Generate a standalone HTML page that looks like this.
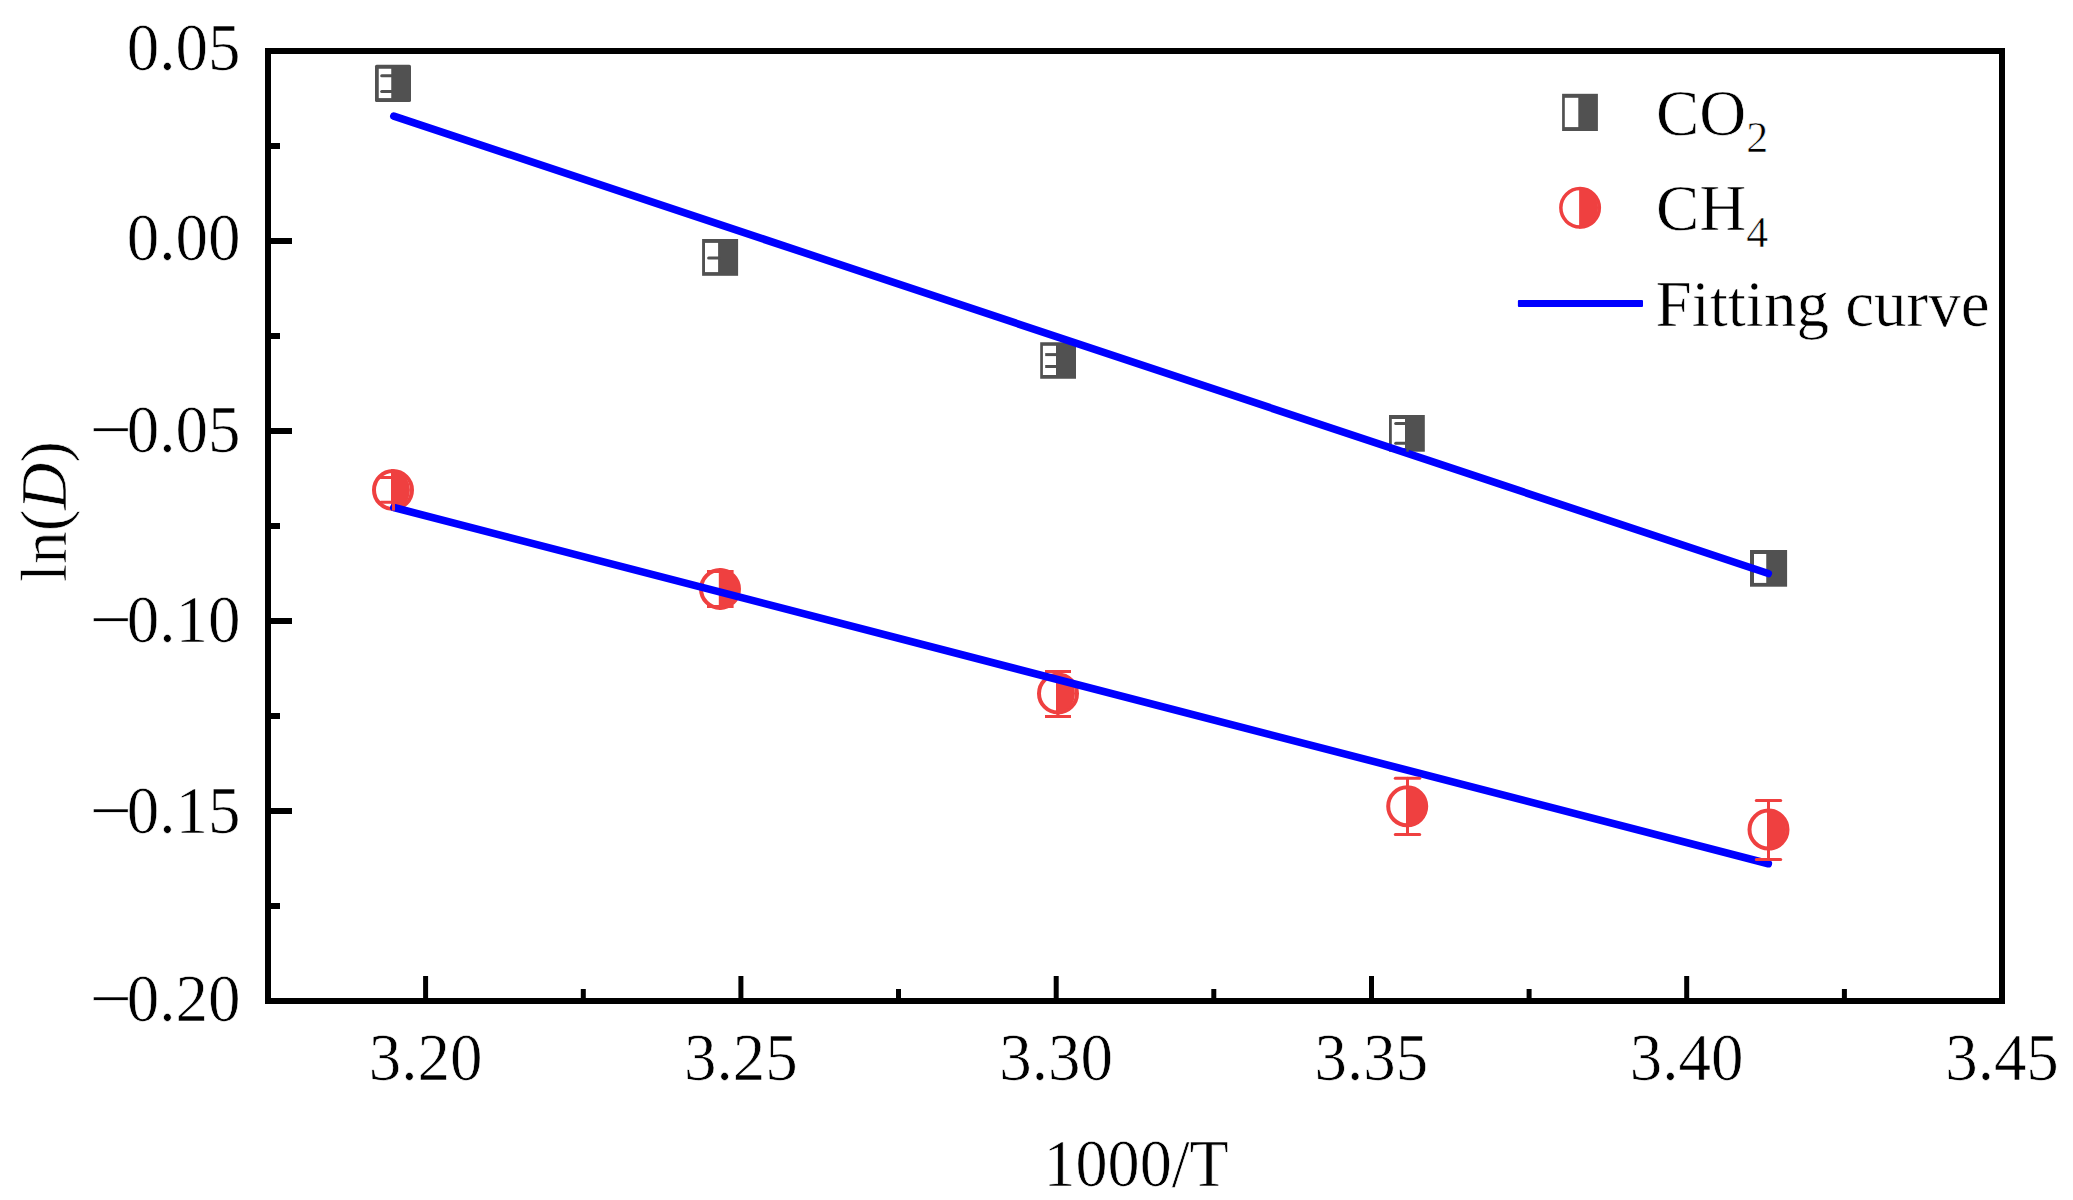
<!DOCTYPE html>
<html lang="en"><head><meta charset="utf-8"><title>ln(D) vs 1000/T</title>
<style>html,body{margin:0;padding:0;background:#fff;}body{width:2073px;height:1200px;overflow:hidden;}svg{display:block;}</style>
</head><body>
<svg width="2073" height="1200" viewBox="0 0 2073 1200" font-family="'Liberation Serif', serif" font-size="65" fill="#000">
<style>text{stroke:#fff;stroke-width:0.6px;}</style>
<rect x="0" y="0" width="2073" height="1200" fill="#fff"/>
<g stroke="#000" stroke-width="5" fill="none">
<line x1="425.6" y1="1001.0" x2="425.6" y2="976"/>
<line x1="740.9" y1="1001.0" x2="740.9" y2="976"/>
<line x1="1056.2" y1="1001.0" x2="1056.2" y2="976"/>
<line x1="1371.5" y1="1001.0" x2="1371.5" y2="976"/>
<line x1="1686.7" y1="1001.0" x2="1686.7" y2="976"/>
<line x1="583.3" y1="1001.0" x2="583.3" y2="989"/>
<line x1="898.5" y1="1001.0" x2="898.5" y2="989"/>
<line x1="1213.8" y1="1001.0" x2="1213.8" y2="989"/>
<line x1="1529.1" y1="1001.0" x2="1529.1" y2="989"/>
<line x1="1844.4" y1="1001.0" x2="1844.4" y2="989"/>
</g><g stroke="#000" stroke-width="6" fill="none">
<line x1="268.0" y1="241.0" x2="292" y2="241.0"/>
<line x1="268.0" y1="431.0" x2="292" y2="431.0"/>
<line x1="268.0" y1="621.0" x2="292" y2="621.0"/>
<line x1="268.0" y1="811.0" x2="292" y2="811.0"/>
<line x1="268.0" y1="146.0" x2="280" y2="146.0"/>
<line x1="268.0" y1="336.0" x2="280" y2="336.0"/>
<line x1="268.0" y1="526.0" x2="280" y2="526.0"/>
<line x1="268.0" y1="716.0" x2="280" y2="716.0"/>
<line x1="268.0" y1="906.0" x2="280" y2="906.0"/>
</g>
<rect x="268.0" y="51.0" width="1734.0" height="950.0" fill="none" stroke="#000" stroke-width="6"/>
<g text-anchor="end">
<text transform="translate(240.50,70.00) scale(1,1.027)">0.05</text>
<text transform="translate(240.50,260.10) scale(1,1.027)">0.00</text>
<text transform="translate(240.50,451.60) scale(1,1.027)"><tspan textLength="42.38" lengthAdjust="spacingAndGlyphs" dy="0.29">−</tspan><tspan dx="-5.28" dy="-0.29">0.05</tspan></text>
<text transform="translate(240.50,642.10) scale(1,1.027)"><tspan textLength="42.38" lengthAdjust="spacingAndGlyphs" dy="0.29">−</tspan><tspan dx="-5.28" dy="-0.29">0.10</tspan></text>
<text transform="translate(240.50,833.10) scale(1,1.027)"><tspan textLength="42.38" lengthAdjust="spacingAndGlyphs" dy="0.29">−</tspan><tspan dx="-5.28" dy="-0.29">0.15</tspan></text>
<text transform="translate(240.50,1021.10) scale(1,1.027)"><tspan textLength="42.38" lengthAdjust="spacingAndGlyphs" dy="0.29">−</tspan><tspan dx="-5.28" dy="-0.29">0.20</tspan></text>
</g>
<g text-anchor="middle">
<text transform="translate(425.64,1079.50) scale(1,1.027)">3.20</text>
<text transform="translate(740.91,1079.50) scale(1,1.027)">3.25</text>
<text transform="translate(1056.18,1079.50) scale(1,1.027)">3.30</text>
<text transform="translate(1371.45,1079.50) scale(1,1.027)">3.35</text>
<text transform="translate(1686.73,1079.50) scale(1,1.027)">3.40</text>
<text transform="translate(2002.00,1079.50) scale(1,1.027)">3.45</text>
<text transform="translate(1136.10,1185.50) scale(0.987,1.027)">1000/T</text>
<text transform="translate(65.50,511.50) rotate(-90) scale(1,1)">ln(<tspan font-style="italic">D</tspan>)</text>
</g>
<rect x="375.00" y="64.80" width="36.00" height="37.30" fill="#515151" rx="1.6"/><rect x="378.75" y="68.75" width="12.50" height="29.35" fill="#fff"/>
<line x1="381.7" y1="75.7" x2="392.2" y2="75.7" stroke="#515151" stroke-width="3" stroke-linecap="round"/>
<line x1="381.7" y1="91.5" x2="392.2" y2="91.5" stroke="#515151" stroke-width="3" stroke-linecap="round"/>
<rect x="702.10" y="239.00" width="36.00" height="36.80" fill="#515151"/><rect x="705.00" y="242.90" width="13.10" height="29.20" fill="#fff"/>
<line x1="708.6" y1="257.9" x2="719.1" y2="257.9" stroke="#515151" stroke-width="3" stroke-linecap="round"/>
<rect x="1040.20" y="342.25" width="35.80" height="36.50" fill="#515151"/><rect x="1042.90" y="345.80" width="13.10" height="29.20" fill="#fff"/>
<line x1="1045.2" y1="354.6" x2="1057.0" y2="354.6" stroke="#515151" stroke-width="3" stroke-linecap="butt"/>
<line x1="1045.2" y1="366.5" x2="1057.0" y2="366.5" stroke="#515151" stroke-width="3" stroke-linecap="butt"/>
<rect x="1389.00" y="415.00" width="35.80" height="36.70" fill="#515151"/><rect x="1391.80" y="419.00" width="13.20" height="29.00" fill="#fff"/>
<line x1="1395.7" y1="423.5" x2="1406.0" y2="423.5" stroke="#515151" stroke-width="3" stroke-linecap="round"/>
<line x1="1395.7" y1="443.3" x2="1406.0" y2="443.3" stroke="#515151" stroke-width="3" stroke-linecap="round"/>
<rect x="1750.00" y="550.00" width="37.10" height="36.70" fill="#515151"/><rect x="1754.00" y="554.00" width="12.25" height="28.90" fill="#fff"/>
<circle cx="393.0" cy="490.0" r="19.0" fill="#fff" stroke="#EF4040" stroke-width="4"/><path d="M391.00,469.10 A21,21 0 0 1 391.00,510.90 Z" fill="#EF4040"/>
<circle cx="720.0" cy="589.0" r="19.0" fill="#fff" stroke="#EF4040" stroke-width="4"/><path d="M719.00,568.10 A21,21 0 0 1 719.00,609.90 Z" fill="#EF4040"/>
<circle cx="1058.0" cy="693.5" r="19.0" fill="#fff" stroke="#EF4040" stroke-width="4"/><path d="M1056.00,672.60 A21,21 0 0 1 1056.00,714.40 Z" fill="#EF4040"/>
<circle cx="1407.2" cy="806.3" r="19.0" fill="#fff" stroke="#EF4040" stroke-width="4"/><path d="M1406.10,785.40 A21,21 0 0 1 1406.10,827.20 Z" fill="#EF4040"/>
<circle cx="1768.5" cy="829.6" r="19.0" fill="#fff" stroke="#EF4040" stroke-width="4"/><path d="M1767.10,808.70 A21,21 0 0 1 1767.10,850.50 Z" fill="#EF4040"/>
<g stroke="#EF4040" stroke-width="3" stroke-linecap="butt" fill="none"><line x1="1058.0" y1="671.5" x2="1058.0" y2="716.5"/><line x1="1045.0" y1="671.5" x2="1071.0" y2="671.5"/><line x1="1045.0" y1="716.5" x2="1071.0" y2="716.5"/></g>
<g stroke="#EF4040" stroke-width="3" stroke-linecap="butt" fill="none"><line x1="720.3" y1="571.5" x2="720.3" y2="606.5"/><line x1="707.0" y1="571.5" x2="733.6" y2="571.5"/><line x1="707.0" y1="606.5" x2="733.6" y2="606.5"/></g>
<g stroke="#0000FF" stroke-width="7.6" stroke-linecap="round" fill="none">
<line x1="393.8" y1="116.1" x2="1768.3" y2="573.5"/>
<line x1="393.8" y1="507.5" x2="1768.3" y2="863.7"/>
</g>
<g stroke="#EF4040" stroke-width="3" stroke-linecap="round" fill="none"><line x1="393.0" y1="477.5" x2="393.0" y2="502.3"/><line x1="380.8" y1="477.5" x2="405.2" y2="477.5"/><line x1="380.8" y1="502.3" x2="405.2" y2="502.3"/></g>
<g stroke="#EF4040" stroke-width="3" stroke-linecap="round" fill="none"><line x1="1407.5" y1="778.3" x2="1407.5" y2="834.5"/><line x1="1395.3" y1="778.3" x2="1419.7" y2="778.3"/><line x1="1395.3" y1="834.5" x2="1419.7" y2="834.5"/></g>
<g stroke="#EF4040" stroke-width="3" stroke-linecap="round" fill="none"><line x1="1768.5" y1="800.4" x2="1768.5" y2="859.6"/><line x1="1756.3" y1="800.4" x2="1780.7" y2="800.4"/><line x1="1756.3" y1="859.6" x2="1780.7" y2="859.6"/></g>
<rect x="392" y="502" width="3" height="8.6" fill="#EF4040"/>
<rect x="1406.3" y="449" width="2.5" height="2.7" fill="#515151"/>
<rect x="1562.10" y="93.80" width="35.80" height="37.20" fill="#515151"/><rect x="1564.80" y="97.80" width="13.50" height="29.30" fill="#fff"/>
<circle cx="1580.1" cy="207.8" r="19.25" fill="#fff" stroke="#EF4040" stroke-width="3.5"/><path d="M1579.10,186.90 A21,21 0 0 1 1579.10,228.70 Z" fill="#EF4040"/>
<rect x="1517.9" y="299.9" width="125.1" height="7.1" rx="1" fill="#0000FF"/>
<text transform="translate(1656.00,135.00) scale(1,1.015)">CO<tspan font-size="44" dy="16.7">2</tspan></text>
<text transform="translate(1656.00,230.00) scale(1,1.015)">CH<tspan font-size="44" dy="16.7">4</tspan></text>
<text transform="translate(1655.50,325.50) scale(1,1)">Fitting curve</text>
</svg>
</body></html>
